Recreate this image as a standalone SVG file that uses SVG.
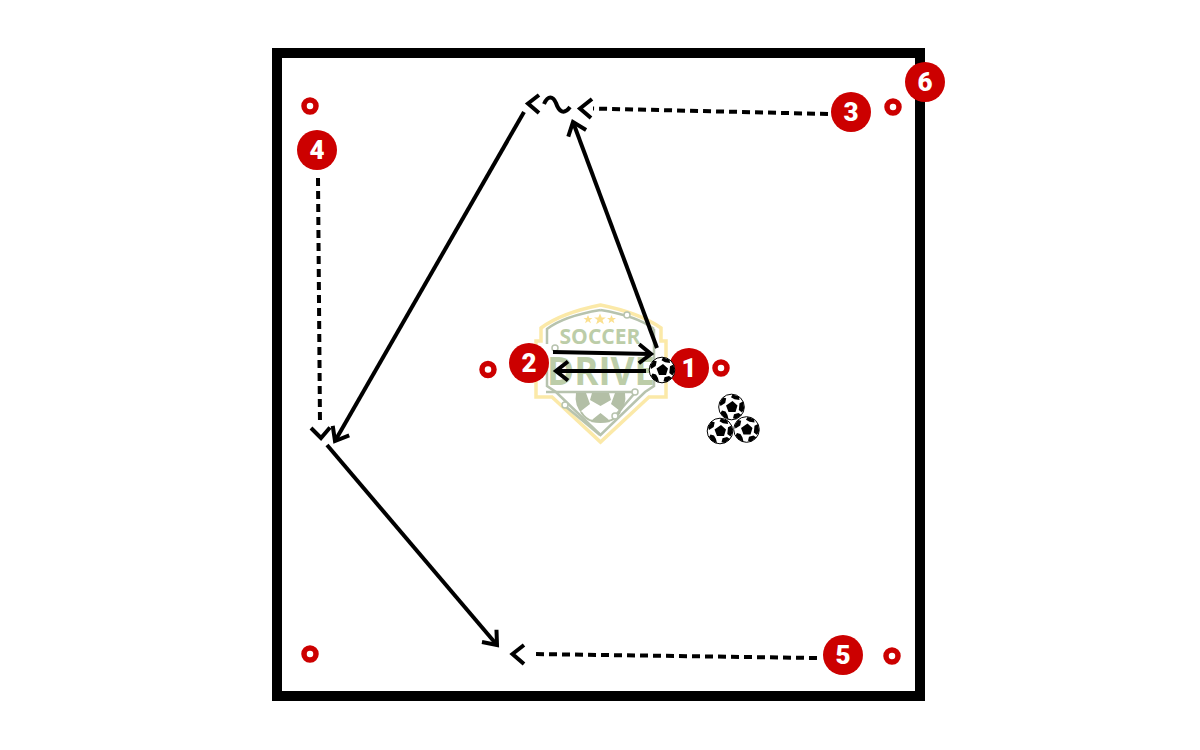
<svg xmlns="http://www.w3.org/2000/svg" width="1200" height="750" viewBox="0 0 1200 750">
<style>
.line{fill:none;stroke:#000;stroke-width:4}
.dash{stroke-dasharray:8 5}
.num{fill:#cc0000}
.ring{fill:#fff;stroke:#cc0000;stroke-width:5.500}
.digit{font-family:Roboto,"Liberation Sans",sans-serif;font-weight:900;font-size:26px;fill:#fff;text-anchor:middle}
.logo-g{fill:none;stroke:#b7c3ae;stroke-width:2.500}
.logo-c{fill:#fff;stroke:#b7c3ae;stroke-width:1.500}
.logo-t{font-family:"Open Sans","Liberation Sans",sans-serif;font-weight:700;fill:#bccda8;text-anchor:middle}
</style>
<defs>
<marker id="head" markerUnits="userSpaceOnUse" markerWidth="30" markerHeight="30" refX="15" refY="15" orient="auto" overflow="visible">
<path d="M3,5.500L15,15L3,24.500" fill="none" stroke="#000" stroke-width="4"/>
</marker>
<g id="ball">
<circle r="12.800" fill="#fff" stroke="#000" stroke-width="1"/>
<path d="M1,-6L6,-1.500L4,5H-3L-5.500,-1.500Z M1,-12.600L7.500,-10.500L8,-7L3,-7.800L-0.500,-9.800Z M11.500,-5.500L12.700,1.500L10.500,5.500L7.300,3L8,-3.800Z M10,8L4.500,12L1.500,11.300L2.500,7.300L7,6Z M-4,8L-3,12.300L-8,10L-11,6L-9.500,3.500L-6,4.500Z M-12,-4L-8.500,-9.500L-5.300,-8.800L-6.300,-4L-11,-1Z" fill="#000"/>
</g>
</defs>
<rect width="1200" height="750" fill="#fff"/>
<rect id="field" x="277" y="53" width="643" height="643" fill="none" stroke="#000" stroke-width="10"/>
<g id="logo">
<path d="M600.500,305Q561,313 541,328V341H536V397H552L600.500,442L649,397H666V341H661V328Q640,313 600.500,305Z" fill="#fff" stroke="#fbe9a8" stroke-width="3.500"/>
<path class="logo-g" d="M600.500,310Q564,316 547,329V344M654,329Q637,316 600.500,310M547,356V386L556,392L600.500,435L645,392L654,386V329"/>
<path class="logo-g" d="M546,392H632M565,406L600,435M615,416L634,394"/>
<path d="M576,393H586L590,404L581,411L583,415A25,25 0 0 1 576,393Z M625,393H615L611,404L620,411L618,415A25,25 0 0 0 625,393Z M592,393H609L611,400L600.500,406L590,400Z M593,419L600.500,413L608,419L610,422Q600.500,424 591,422Z" fill="#b3bfa6"/>
<path d="M581,412Q586,420 593,421M620,412Q615,420 608,421" fill="none" stroke="#b3bfa6" stroke-width="2"/>
<path d="M588,315l1.300,3h3.200l-2.600,2l1,3.200l-2.900,-1.900l-2.900,1.900l1,-3.200l-2.600,-2h3.200Z M600,313.500l1.700,4h4.200l-3.400,2.600l1.300,4.200l-3.800,-2.500l-3.800,2.500l1.300,-4.200l-3.400,-2.600h4.200Z M611.500,315l1.300,3h3.200l-2.600,2l1,3.200l-2.900,-1.900l-2.900,1.900l1,-3.200l-2.600,-2h3.200Z" fill="#fbe08f"/>
<text class="logo-t" x="600" y="343.500" font-size="21" textLength="81" lengthAdjust="spacingAndGlyphs">SOCCER</text>
<text class="logo-t" x="601" y="385" font-size="39" textLength="108" lengthAdjust="spacingAndGlyphs">DRIVE</text>
<circle class="logo-c" cx="555" cy="348" r="3"/>
<circle class="logo-c" cx="627" cy="315" r="3"/>
<circle class="logo-c" cx="635" cy="392" r="3"/>
<circle class="logo-c" cx="565" cy="405" r="3"/>
<circle class="logo-c" cx="615" cy="416" r="3"/>
</g>
<g id="connectors">
<line class="line" x1="657" y1="348" x2="573" y2="122" marker-end="url(#head)"/>
<line class="line" x1="524" y1="112" x2="335" y2="441" marker-end="url(#head)"/>
<line class="line" x1="327" y1="445" x2="497" y2="645" marker-end="url(#head)"/>
<line class="line" x1="553" y1="352" x2="651" y2="354" marker-end="url(#head)"/>
<line class="line" x1="646" y1="371" x2="556" y2="371" marker-end="url(#head)"/>
<line class="line dash" x1="828" y1="114" x2="593" y2="108.500"/>
<path class="line" d="M592,99L580,108.500L591,118"/>
<line class="line dash" x1="318" y1="178" x2="320" y2="425"/>
<path class="line" d="M311,428L321,438L330,427.500"/>
<line class="line dash" x1="817" y1="658" x2="533" y2="654"/>
<path class="line" d="M524,645L512.500,654L524,664"/>
<path class="line" d="M539,95L528,103.500L539,113"/>
<path class="line" d="M544,104C548,95 553,96 556,103C559,112 564,115 570,107"/>
</g>
<g id="cone-1"><circle class="ring" cx="310" cy="106" r="6"/></g>
<g id="cone-2"><circle class="ring" cx="893" cy="107" r="6"/></g>
<g id="cone-3"><circle class="ring" cx="488" cy="369.500" r="6"/></g>
<g id="cone-4"><circle class="ring" cx="721" cy="368" r="6"/></g>
<g id="cone-5"><circle class="ring" cx="310" cy="654" r="6"/></g>
<g id="cone-6"><circle class="ring" cx="892" cy="656" r="6"/></g>
<g id="player-1"><circle class="num" cx="689" cy="368" r="20"/><text class="digit" x="689" y="377">1</text></g>
<g id="player-2"><circle class="num" cx="529" cy="363" r="20"/><text class="digit" x="529" y="372">2</text></g>
<g id="player-3"><circle class="num" cx="851" cy="112" r="20"/><text class="digit" x="851" y="121">3</text></g>
<g id="player-4"><circle class="num" cx="317" cy="150" r="20"/><text class="digit" x="317" y="159">4</text></g>
<g id="player-5"><circle class="num" cx="843" cy="655" r="20"/><text class="digit" x="843" y="664">5</text></g>
<g id="player-6"><circle class="num" cx="925" cy="82" r="20"/><text class="digit" x="925" y="91">6</text></g>
<g id="ball-main"><use href="#ball" transform="translate(662 370)"/></g>
<g id="ball-stack"><use href="#ball" transform="translate(731.500 407)"/><use href="#ball" transform="translate(720 431)"/><use href="#ball" transform="translate(746.500 429.500)"/></g>
</svg>
